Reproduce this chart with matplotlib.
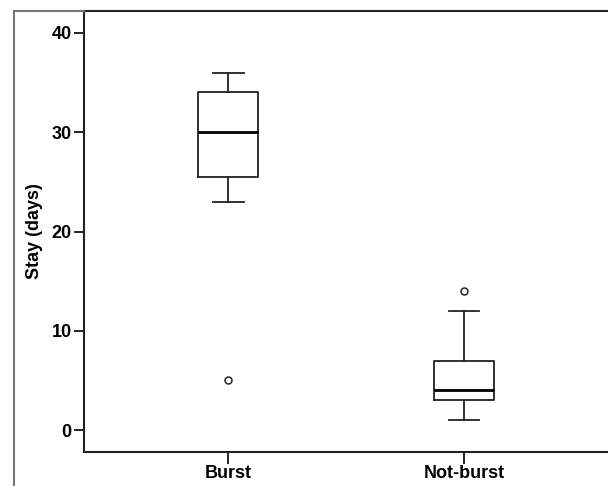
import matplotlib
matplotlib.use("Agg")
import matplotlib.pyplot as plt
from matplotlib.lines import Line2D

groups = ["Burst", "Not-burst"]
q1 = [25.5, 3]
med = [30, 4]
q3 = [34, 7]
whislo = [23, 1]
whishi = [36, 12]
outliers = [[5], [14]]

plt.rcParams['font.family'] = ['Liberation Sans', 'DejaVu Sans']
plt.rcParams['font.weight'] = 'bold'

stats = []
for i in range(len(groups)):
    stats.append({"label": groups[i], "q1": q1[i], "med": med[i], "q3": q3[i],
                  "whislo": whislo[i], "whishi": whishi[i], "fliers": outliers[i]})

fig = plt.figure(figsize=(6.08, 4.86), dpi=100)
ax = fig.add_axes([84/608, 1-452/486, 1-84/608, (452-11)/486])

line = dict(color="#222222", linewidth=1.3)
ax.bxp(stats, positions=[1, 2], widths=0.255,
       boxprops=line, whiskerprops=line, capprops=line,
       medianprops=dict(color="black", linewidth=2),
       flierprops=dict(marker="o", markersize=5, markerfacecolor="white",
                       markeredgecolor="#222222", markeredgewidth=1.1),
       capwidths=0.13)

ax.set_xlim(0.388, 2.61)
ax.set_ylim(-2.2, 42.2)
ax.set_yticks([0, 10, 20, 30, 40])
ax.set_xticks([1, 2])
ax.set_xticklabels(groups)
ax.tick_params(axis="y", direction="out", length=7, width=1.2, labelsize=13, pad=2)
ax.tick_params(axis="x", direction="out", length=8.5, width=1.2, labelsize=13, pad=1)
ax.set_ylabel("Stay (days)", fontsize=13, fontweight="bold", labelpad=6)
for s in ["left", "bottom", "top"]:
    ax.spines[s].set_linewidth(1.5)
    ax.spines[s].set_color("#222222")
ax.spines["right"].set_visible(False)

# outer chart frame
fig.add_artist(Line2D([14/608, 14/608], [0, 1-11/486], color="#777777", linewidth=1.5))
fig.add_artist(Line2D([14/608, 84/608], [1-11/486, 1-11/486], color="#777777", linewidth=1.5))

fig.savefig("out.png", dpi=100)
